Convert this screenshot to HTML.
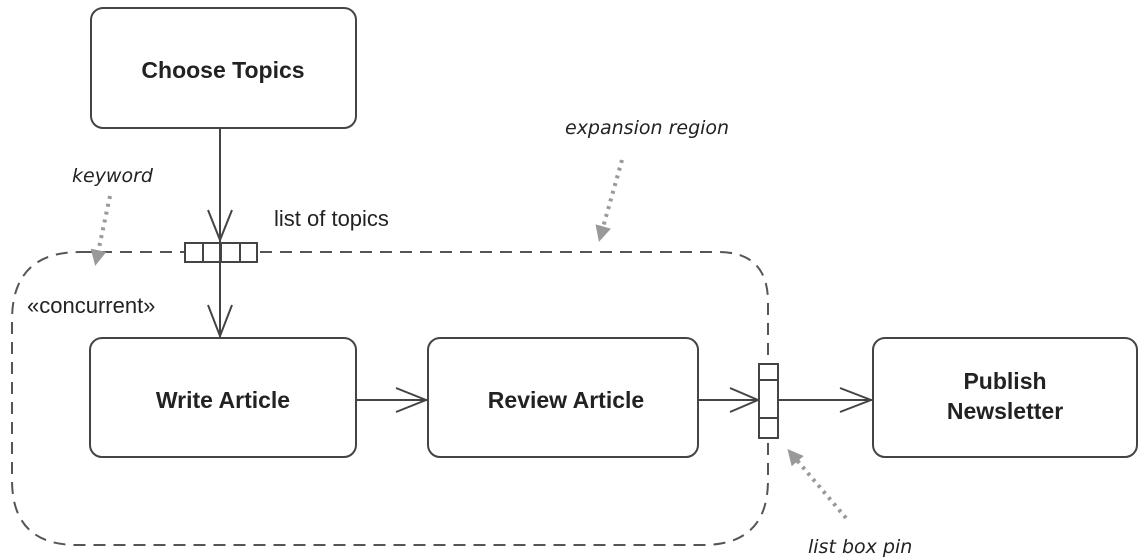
<!DOCTYPE html>
<html><head><style>
html,body{margin:0;padding:0;background:#fff;}
svg{display:block;}
text{font-family:"Liberation Sans",sans-serif;fill:#222;}
.b{font-weight:bold;font-size:23px;}
.n{font-size:22px;}
.h{font-style:italic;font-size:19px;font-family:"DejaVu Sans",sans-serif;}
</style></head><body>
<svg width="1146" height="560" viewBox="0 0 1146 560" xmlns="http://www.w3.org/2000/svg">
<defs>
<marker id="g" markerWidth="16" markerHeight="16" refX="12" refY="8" orient="auto" markerUnits="userSpaceOnUse">
<path d="M0,0 L16,8 L0,16 Z" fill="#999"/></marker>
</defs>
<g fill="none" stroke="#444" stroke-width="2">
<rect x="91" y="8" width="265" height="120" rx="12"/>
<rect x="90" y="338" width="266" height="119" rx="12"/>
<rect x="428" y="338" width="270" height="119" rx="12"/>
<rect x="873" y="338" width="264" height="119" rx="12"/>
<path d="M80,252 H718 Q768,252 768,302 V480 Q768,545 703,545 H77 Q12,545 12,480 V320 Q12,252 80,252 Z" stroke-dasharray="12,8" stroke="#555"/>
<line x1="220" y1="128" x2="220" y2="338"/>
<path d="M208,210 L220,240 L232,210"/>
<path d="M208,305 L220,336 L232,305"/>
<line x1="356" y1="400" x2="428" y2="400"/>
<path d="M396,388 L426,400 L396,412"/>
<line x1="698" y1="400" x2="873" y2="400"/>
<path d="M730,388 L758,400 L730,412"/>
<path d="M840,388 L871,400 L840,412"/>
<rect x="185" y="243" width="72" height="19" fill="#fff"/>
<line x1="203" y1="243" x2="203" y2="262"/><line x1="221" y1="243" x2="221" y2="262"/><line x1="240" y1="243" x2="240" y2="262"/>
<line x1="220" y1="243" x2="220" y2="262"/>
<rect x="759" y="364" width="19" height="74" fill="#fff"/>
<line x1="759" y1="380" x2="778" y2="380"/><line x1="759" y1="418" x2="778" y2="418"/>
</g>
<g stroke="#999" stroke-width="4" stroke-dasharray="3,5" fill="none">
<line x1="110" y1="196" x2="96" y2="262" marker-end="url(#g)"/>
<line x1="622" y1="160" x2="600" y2="238" marker-end="url(#g)"/>
<line x1="846" y1="518" x2="790" y2="452" marker-end="url(#g)"/>
</g>
<text class="b" x="223" y="78" text-anchor="middle">Choose Topics</text>
<text class="b" x="223" y="408" text-anchor="middle">Write Article</text>
<text class="b" x="566" y="408" text-anchor="middle">Review Article</text>
<text class="b" x="1005" y="389" text-anchor="middle">Publish</text>
<text class="b" x="1005" y="419" text-anchor="middle">Newsletter</text>
<text class="n" x="274" y="226">list of topics</text>
<text class="n" x="27" y="313">«concurrent»</text>
<text class="h" x="72" y="182">keyword</text>
<text class="h" x="565" y="134">expansion region</text>
<text class="h" x="808" y="553">list box pin</text>
</svg>
</body></html>
